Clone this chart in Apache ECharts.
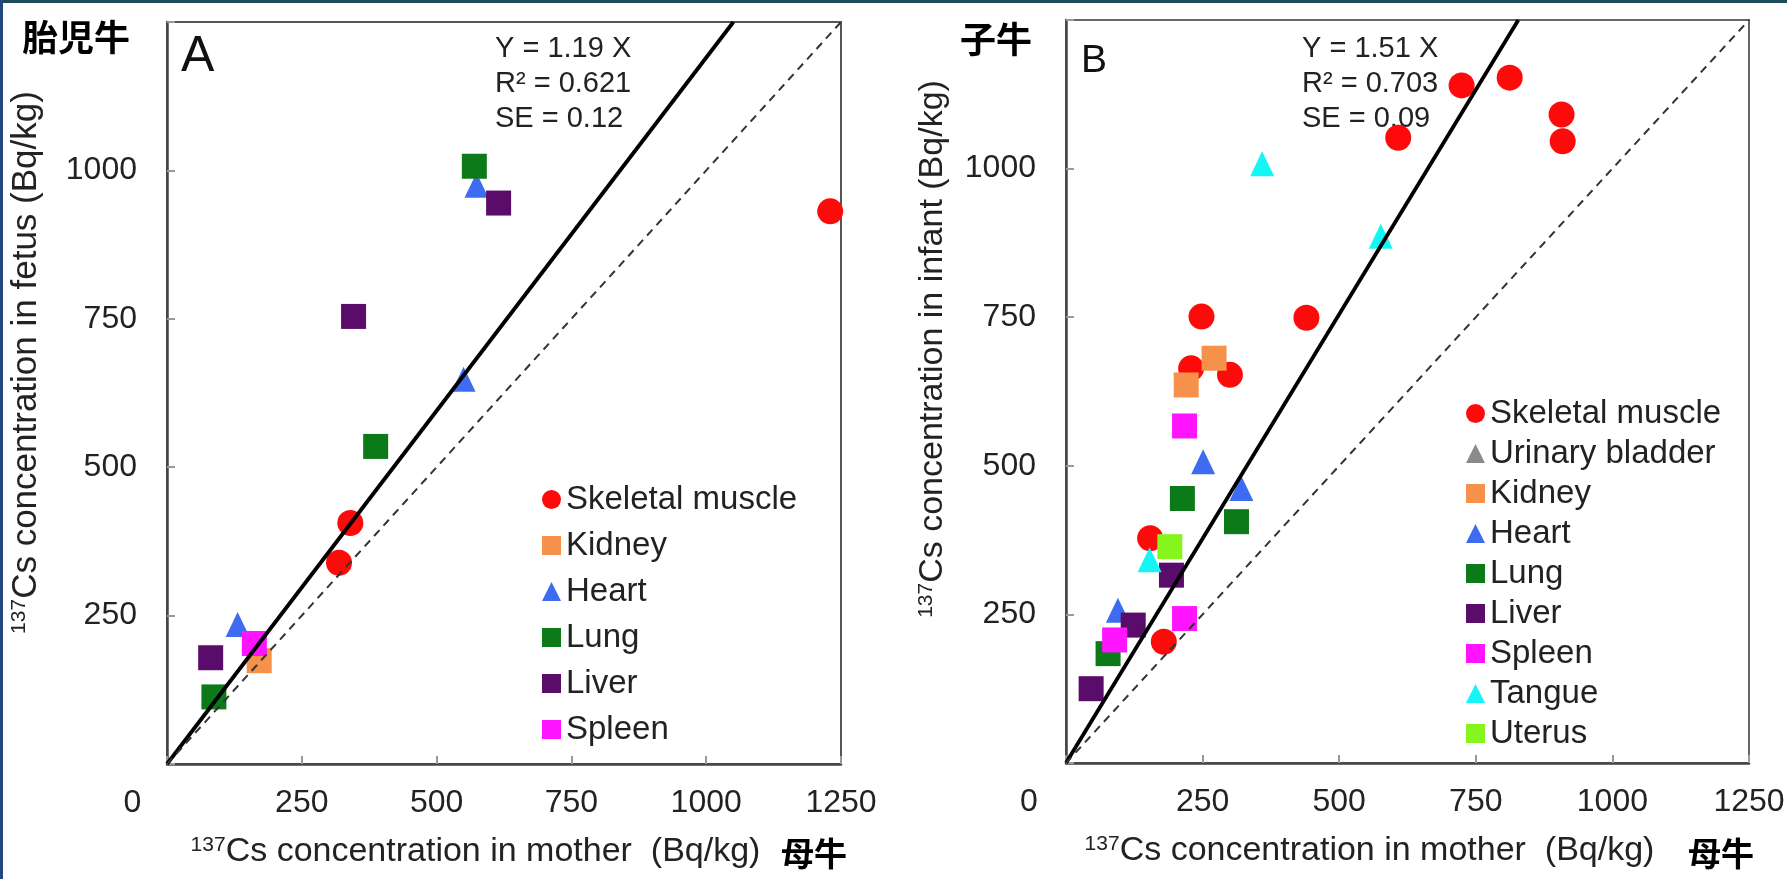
<!DOCTYPE html>
<html><head><meta charset="utf-8">
<script src="https://cdn.jsdelivr.net/npm/echarts@6/dist/echarts.min.js"></script>
<style>html,body{margin:0;padding:0;background:#fff}#c{width:1787px;height:879px}</style>
</head><body><div id="c"></div>
<script>
// ---------- data ----------
const axisMin = 0, axisMax = 1250, axisStep = 250;
const organsA = ['Skeletal muscle', 'Kidney', 'Heart', 'Lung', 'Liver', 'Spleen'];
const organsB = ['Skeletal muscle', 'Urinary bladder', 'Kidney', 'Heart', 'Lung', 'Liver', 'Spleen', 'Tangue', 'Uterus'];

// Panel A: fetus vs mother  [mother, fetus]
const fetusSkeletal = [[1230, 931], [340, 406], [319, 339]];
const fetusKidney   = [[171, 174]];
const fetusHeart    = [[574, 975], [550, 648], [131, 235]];
const fetusLung     = [[570, 1007], [387, 535], [87, 113]];
const fetusLiver    = [[615, 945], [346, 754], [81, 179]];
const fetusSpleen   = [[162, 203]];

// Panel B: infant vs mother  [mother, infant]
const infantSkeletal = [[608, 1052], [724, 1140], [812, 1153], [907, 1091], [909, 1046], [440, 749], [248, 751], [229, 664], [300, 653], [154, 378], [179, 204]];
const infantUrinary  = [];
const infantKidney   = [[271, 681], [220, 636]];
const infantHeart    = [[251, 507], [321, 462], [95, 257]];
const infantLung     = [[213, 445], [312, 406], [77, 184]];
const infantLiver    = [[193, 316], [123, 232], [46, 125]];
const infantSpleen   = [[217, 567], [217, 243], [89, 207]];
const infantTangue   = [[359, 1008], [576, 886], [153, 342]];
const infantUterus   = [[190, 364]];

const slopeA = 1.19, slopeB = 1.51;
const statsA = ['Y = 1.19 X', 'R² = 0.621', 'SE = 0.12'];
const statsB = ['Y = 1.51 X', 'R² = 0.703', 'SE = 0.09'];

// ---------- styles ----------
const FONT = "'Liberation Sans', Arial, sans-serif";
const CJK = "'Noto Sans CJK JP', 'Noto Sans CJK SC', sans-serif";
const STYLE = {
  'Skeletal muscle': { symbol: 'circle',   color: '#ff0a0a', size: 26 },
  'Urinary bladder': { symbol: 'triangle', color: '#8a8a8a', size: [24, 25] },
  'Kidney':          { symbol: 'rect',     color: '#f5914a', size: 25 },
  'Heart':           { symbol: 'triangle', color: '#3d6cf0', size: [24, 25] },
  'Lung':            { symbol: 'rect',     color: '#0c7a18', size: 25 },
  'Liver':           { symbol: 'rect',     color: '#5a0c6a', size: 25 },
  'Spleen':          { symbol: 'rect',     color: '#ff14ff', size: 25 },
  'Tangue':          { symbol: 'triangle', color: '#14f5f5', size: [24, 25] },
  'Uterus':          { symbol: 'rect',     color: '#86f51e', size: 25 }
};

function scatter(name, data, idx) {
  const s = STYLE[name];
  return {
    type: 'scatter', name, data, xAxisIndex: idx, yAxisIndex: idx,
    symbol: s.symbol, symbolSize: s.size,
    itemStyle: { color: s.color, opacity: 1 }, z: 3, silent: true
  };
}
function lines(slope, idx) {
  return [
    { type: 'line', data: [[axisMin, axisMin], [axisMax / slope, axisMax]], xAxisIndex: idx, yAxisIndex: idx,
      symbol: 'none', lineStyle: { color: '#000', width: 3.8 }, z: 5, silent: true },
    { type: 'line', data: [[axisMin, axisMin], [axisMax, axisMax]], xAxisIndex: idx, yAxisIndex: idx,
      symbol: 'none', lineStyle: { color: '#333', width: 2, type: [8, 6] }, z: 5, silent: true }
  ];
}
function xAxis(idx, title, zeroPad, nameGap, namePad) {
  return {
    gridIndex: idx, type: 'value', min: axisMin, max: axisMax, interval: axisStep,
    axisLine: { show: true, onZero: false, lineStyle: { color: '#444', width: 2.5 } },
    axisTick: { show: true, inside: true, length: 8, lineStyle: { color: '#999', width: 2 } },
    splitLine: { show: false },
    axisLabel: {
      show: true, showMinLabel: true, showMaxLabel: true, margin: 23,
      fontSize: 32, color: '#222', fontFamily: FONT,
      formatter: v => v === 0 ? '{z|0}' : String(v),
      rich: { z: { fontSize: 32, color: '#222', fontFamily: FONT, padding: [0, zeroPad, 0, 0] } }
    },
    name: '{s|137}{m|' + title + '}', nameLocation: 'middle', nameGap: nameGap,
    nameTextStyle: {
      fontSize: 34, color: '#222', fontFamily: FONT, padding: namePad,
      rich: { s: { fontSize: 21, color: '#222', fontFamily: FONT, verticalAlign: 'top' },
              m: { fontSize: 34, color: '#222', fontFamily: FONT } }
    }
  };
}
function yAxis(idx, title, nameGap, namePad, fs) {
  return {
    gridIndex: idx, type: 'value', min: axisMin, max: axisMax, interval: axisStep,
    axisLine: { show: true, onZero: false, lineStyle: { color: '#444', width: 2.5 } },
    axisTick: { show: true, inside: true, length: 8, lineStyle: { color: '#999', width: 2 } },
    splitLine: { show: false },
    axisLabel: {
      show: true, margin: 30, fontSize: 32, color: '#222', fontFamily: FONT, padding: [10, 0, 0, 0],
      formatter: v => (v === axisMin || v === axisMax) ? '' : String(v)
    },
    name: '{s|137}{m|' + title + '}', nameLocation: 'middle', nameRotate: 90, nameGap: nameGap,
    nameTextStyle: {
      fontSize: fs, color: '#222', fontFamily: FONT, padding: namePad,
      rich: { s: { fontSize: 21, color: '#222', fontFamily: FONT, verticalAlign: 'top' },
              m: { fontSize: fs, color: '#222', fontFamily: FONT } }
    }
  };
}
function legend(names, left, top, gap) {
  return {
    data: names, orient: 'vertical', left, top, itemWidth: 19, itemHeight: 19, itemGap: gap,
    selectedMode: false, padding: 0,
    textStyle: { fontSize: 33, lineHeight: 33, color: '#222', fontFamily: FONT }
  };
}
function txt(x, y, text, font, va, extra) {
  return Object.assign({ type: 'text', x, y, silent: true,
    style: Object.assign({ text, font, fill: '#111', align: 'left', verticalAlign: va,
      textAlign: 'left', textVerticalAlign: va }, extra || {}) });
}

const chart = echarts.init(document.getElementById('c'), null, { renderer: 'canvas' });
chart.setOption({
  animation: false,
  backgroundColor: '#ffffff',
  textStyle: { fontFamily: FONT },
  grid: [
    { left: 167, top: 22, width: 674, height: 742, show: true, borderColor: '#555', borderWidth: 2,
      backgroundColor: 'transparent', containLabel: false, outerBoundsMode: 'none' },
    { left: 1066, top: 20, width: 683, height: 743, show: true, borderColor: '#666', borderWidth: 2,
      backgroundColor: 'transparent', containLabel: false, outerBoundsMode: 'none' }
  ],
  xAxis: [
    xAxis(0, 'Cs concentration in mother  (Bq/kg)', 69, 71, [0, 57, 0, 0]),
    xAxis(1, 'Cs concentration in mother  (Bq/kg)', 74, 71, [0, 76, 0, 0])
  ],
  yAxis: [
    yAxis(0, 'Cs concentration in fetus (Bq/kg)', 123, [0, 0, 0, 61], 35),
    yAxis(1, 'Cs concentration in infant (Bq/kg)', 116, [0, 0, 0, 85], 34)
  ],
  legend: [
    legend(organsA, 542, 483, 13),
    legend(organsB, 1466, 397, 7)
  ],
  series: [
    scatter('Skeletal muscle', fetusSkeletal, 0),
    scatter('Kidney', fetusKidney, 0),
    scatter('Heart', fetusHeart, 0),
    scatter('Lung', fetusLung, 0),
    scatter('Liver', fetusLiver, 0),
    scatter('Spleen', fetusSpleen, 0),
    ...lines(slopeA, 0),
    scatter('Skeletal muscle', infantSkeletal, 1),
    scatter('Urinary bladder', infantUrinary, 1),
    scatter('Kidney', infantKidney, 1),
    scatter('Heart', infantHeart, 1),
    scatter('Lung', infantLung, 1),
    scatter('Liver', infantLiver, 1),
    scatter('Spleen', infantSpleen, 1),
    scatter('Tangue', infantTangue, 1),
    scatter('Uterus', infantUterus, 1),
    ...lines(slopeB, 1)
  ],
  graphic: [
    { type: 'rect', shape: { x: 0, y: 0, width: 1787, height: 3 }, style: { fill: '#1d4b5e' }, silent: true },
    { type: 'rect', shape: { x: 0, y: 0, width: 3, height: 879 }, style: { fill: '#24497c' }, silent: true },
    txt(22, 37, '胎児牛', 'bold 36px ' + CJK, 'middle', { fill: '#000' }),
    txt(960, 39, '子牛', 'bold 36px ' + CJK, 'middle', { fill: '#000' }),
    txt(781, 853, '母牛', 'bold 33px ' + CJK, 'middle', { fill: '#000' }),
    txt(1688, 853, '母牛', 'bold 33px ' + CJK, 'middle', { fill: '#000' }),
    txt(181, 57, 'A', '50px ' + FONT, 'middle'),
    txt(1081, 61, 'B', '39px ' + FONT, 'middle'),
    txt(495, 31, statsA.join('\n'), '29px ' + FONT, 'top', { lineHeight: 35, fill: '#222' }),
    txt(1302, 31, statsB.join('\n'), '29px ' + FONT, 'top', { lineHeight: 35, fill: '#222' })
  ]
});
</script>
</body></html>
